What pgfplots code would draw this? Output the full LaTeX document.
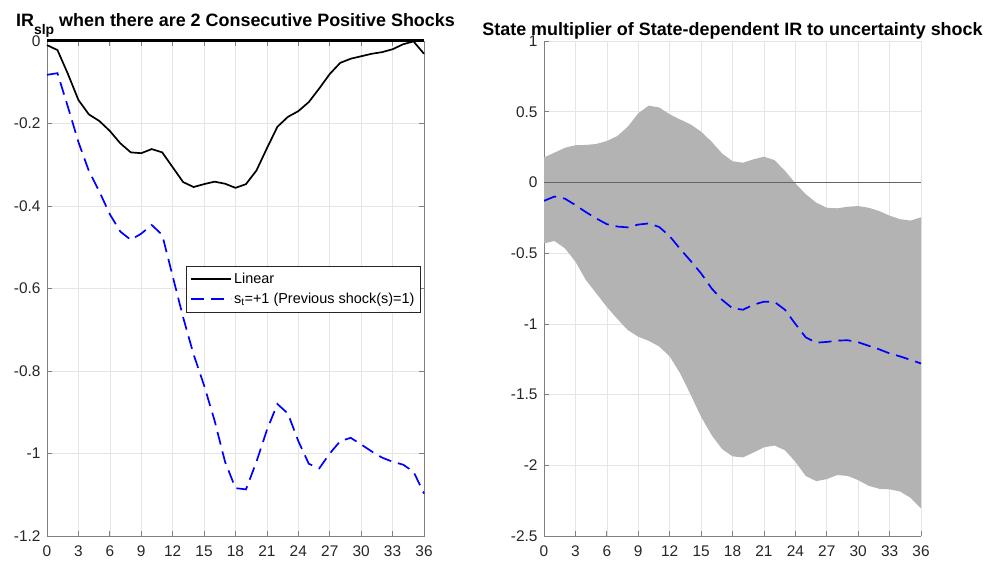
\documentclass[border=0pt]{standalone}
\usepackage{pgfplots}
\pgfplotsset{compat=1.18}
\usepackage{fontspec}
\setmainfont{Liberation Sans}
\definecolor{gridc}{RGB}{229,229,229}
\definecolor{axc}{RGB}{128,128,128}
\definecolor{txt}{RGB}{38,38,38}
\definecolor{band}{RGB}{179,179,179}
\definecolor{zl}{RGB}{100,100,100}
\pgfplotsset{
 myaxis/.style={
  scale only axis, width=377bp, height=495bp,
  xmin=0, xmax=36, xtick={0,3,6,9,12,15,18,21,24,27,30,33,36},
  grid=major, major grid style={gridc, line width=0.6bp},
  tick align=inside, major tick length=5bp,
  axis line style={axc, line width=0.7bp},
  every tick/.style={axc, line width=0.7bp},
  tick label style={font=\fontsize{15.5}{18}\selectfont, text=txt},
  xticklabel style={yshift=-6bp},
  yticklabel style={xshift=-3bp},
  /pgf/number format/assume math mode=true,
  title style={font=\bfseries\fontsize{18}{21}\selectfont, at={(0.5,1)}, anchor=base, text=black},
 }
}
\begin{document}
\begin{tikzpicture}
\path[use as bounding box] (0,0) rectangle (990bp,561bp);
\begin{axis}[myaxis, at={(47bp,25bp)}, anchor=south west,
  ymin=-1.2, ymax=0,
  ytick={-1.2,-1,-0.8,-0.6,-0.4,-0.2,0},
  yticklabels={-1.2,-1,-0.8,-0.6,-0.4,-0.2,0},
  xticklabels={0,3,6,9,12,15,18,21,24,27,30,33,36},
  clip=false,
  title={IR\raisebox{-8bp}{\fontsize{14}{14}\selectfont slp} when there are 2 Consecutive Positive Shocks},
  title style={yshift=8.5bp},
  legend style={at={(0.991,0.545)}, anchor=north east, draw=txt, fill=white,
    font=\fontsize{14.5}{17}\selectfont, inner xsep=4bp, inner ysep=5bp, row sep=4bp},
  legend cell align=left,
  legend image code/.code={\draw[#1, line width=2bp] (0bp,0bp) -- (40bp,0bp);},
]
\addplot[black, line width=3bp, forget plot] coordinates {(0,0) (36,0)};
\addplot[draw=black, line width=1.7bp] coordinates {
(0,-0.01) (1,-0.022) (2,-0.08) (3,-0.143) (4,-0.178) (5,-0.194) (6,-0.218) (7,-0.248) (8,-0.27) (9,-0.272) (10,-0.262) (11,-0.27) (12,-0.306) (13,-0.342) (14,-0.354) (15,-0.347) (16,-0.341) (17,-0.346) (18,-0.356) (19,-0.347) (20,-0.314) (21,-0.26) (22,-0.208) (23,-0.184) (24,-0.17) (25,-0.148) (26,-0.115) (27,-0.08) (28,-0.053) (29,-0.043) (30,-0.037) (31,-0.031) (32,-0.027) (33,-0.02) (34,-0.008) (35,-0.001) (36,-0.031)};
\addlegendentry{Linear}
\addplot[draw=blue, line width=1.7bp, dash pattern=on 13bp off 7bp] coordinates {
(0,-0.082) (1,-0.078) (2,-0.16) (3,-0.245) (4,-0.315) (5,-0.365) (6,-0.42) (7,-0.462) (8,-0.482) (9,-0.467) (10,-0.446) (11,-0.47) (12,-0.57) (13,-0.67) (14,-0.76) (15,-0.835) (16,-0.92) (17,-1.02) (18,-1.084) (19,-1.087) (20,-1.02) (21,-0.943) (22,-0.88) (23,-0.903) (24,-0.97) (25,-1.025) (26,-1.036) (27,-1.0) (28,-0.97) (29,-0.962) (30,-0.978) (31,-0.995) (32,-1.01) (33,-1.02) (34,-1.027) (35,-1.044) (36,-1.097)};
\addlegendentry{s\textsubscript{t}=+1 (Previous shock(s)=1)}
\end{axis}
\begin{axis}[myaxis, at={(544bp,25bp)}, anchor=south west,
  ymin=-2.5, ymax=1,
  ytick={-2.5,-2,-1.5,-1,-0.5,0,0.5,1},
  yticklabels={-2.5,-2,-1.5,-1,-0.5,0,0.5,1},
  xticklabels={0,3,6,9,12,15,18,21,24,27,30,33,36},
  axis x line*=bottom, axis y line*=left,
  every outer x axis line/.append style={-},
  every outer y axis line/.append style={-},
  title={State multiplier of State-dependent IR to uncertainty shock},
  title style={yshift=-0.5bp},
]
\addplot[fill=band, draw=none] coordinates {
(0,0.177) (1,0.21) (2,0.245) (3,0.263) (4,0.265) (5,0.272) (6,0.293) (7,0.328) (8,0.394) (9,0.489) (10,0.543) (11,0.53) (12,0.482) (13,0.445) (14,0.41) (15,0.359) (16,0.288) (17,0.205) (18,0.15) (19,0.139) (20,0.163) (21,0.182) (22,0.158) (23,0.083) (24,-0.006) (25,-0.084) (26,-0.143) (27,-0.179) (28,-0.183) (29,-0.172) (30,-0.167) (31,-0.179) (32,-0.202) (33,-0.235) (34,-0.26) (35,-0.27) (36,-0.247)
(36,-2.305) (35,-2.23) (34,-2.185) (33,-2.17) (32,-2.166) (31,-2.145) (30,-2.105) (29,-2.075) (28,-2.069) (27,-2.098) (26,-2.112) (25,-2.076) (24,-1.975) (23,-1.893) (22,-1.86) (21,-1.873) (20,-1.91) (19,-1.944) (18,-1.937) (17,-1.885) (16,-1.786) (15,-1.657) (14,-1.5) (13,-1.35) (12,-1.23) (11,-1.16) (10,-1.12) (9,-1.091) (8,-1.044) (7,-0.965) (6,-0.88) (5,-0.785) (4,-0.69) (3,-0.56) (2,-0.466) (1,-0.414) (0,-0.431)} -- cycle;
\addplot[zl, line width=0.8bp] coordinates {(0,0) (36,0)};
\addplot[draw=blue, line width=1.7bp, dash pattern=on 13bp off 7bp] coordinates {
(0,-0.13) (1,-0.10) (2,-0.115) (3,-0.16) (4,-0.21) (5,-0.255) (6,-0.295) (7,-0.312) (8,-0.318) (9,-0.298) (10,-0.29) (11,-0.315) (12,-0.38) (13,-0.47) (14,-0.555) (15,-0.643) (16,-0.749) (17,-0.83) (18,-0.89) (19,-0.9) (20,-0.865) (21,-0.843) (22,-0.844) (23,-0.9) (24,-1.0) (25,-1.096) (26,-1.133) (27,-1.128) (28,-1.118) (29,-1.116) (30,-1.13) (31,-1.155) (32,-1.18) (33,-1.209) (34,-1.23) (35,-1.255) (36,-1.28)};
\end{axis}
\end{tikzpicture}
\end{document}
